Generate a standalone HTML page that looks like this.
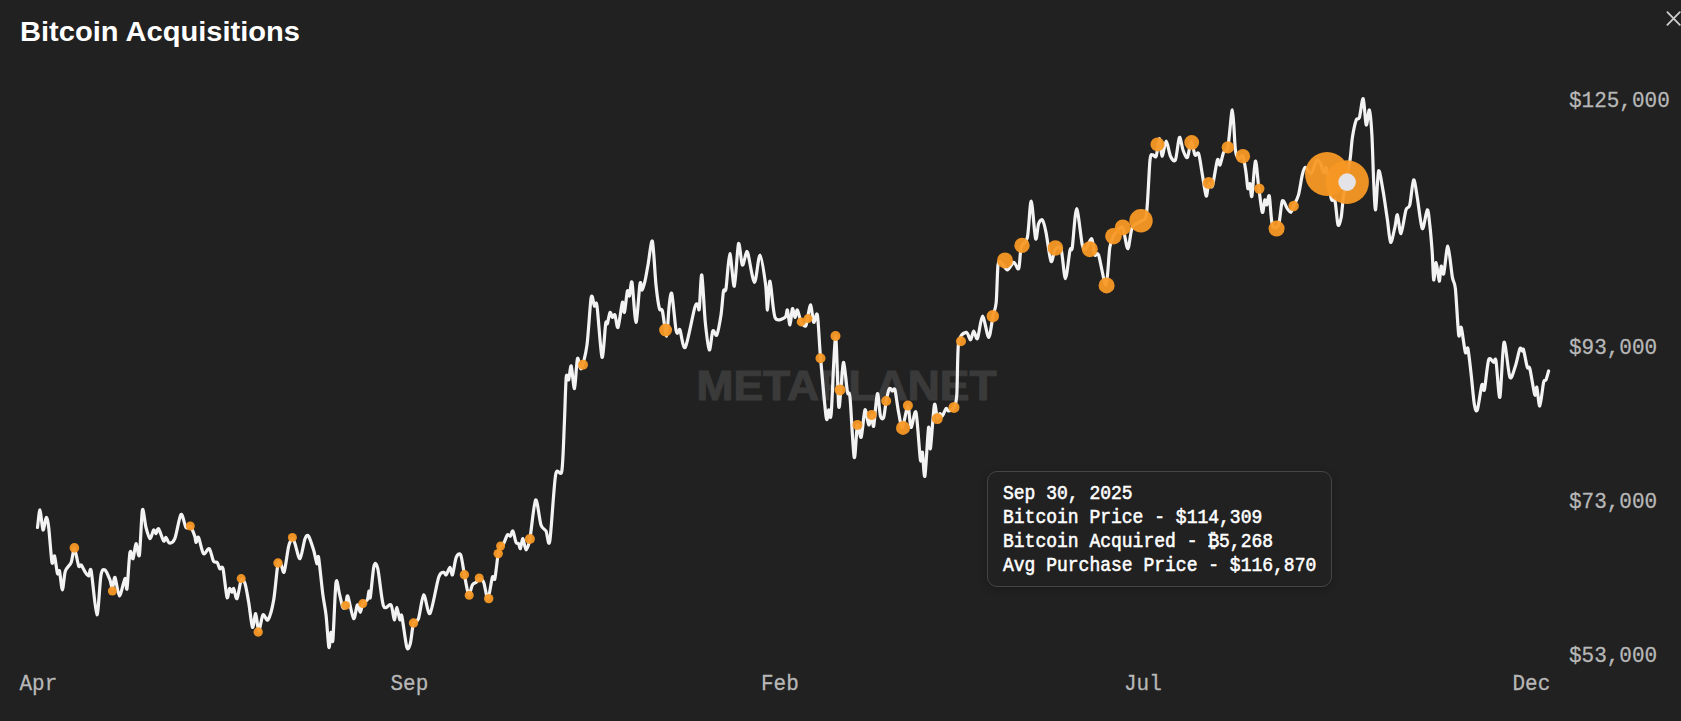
<!DOCTYPE html>
<html lang="en"><head><meta charset="utf-8"><title>Bitcoin Acquisitions</title>
<style>
html,body{margin:0;padding:0;background:#212121;}
body{width:1681px;height:721px;overflow:hidden;position:relative;font-family:"Liberation Mono",monospace;}
svg{position:absolute;left:0;top:0;display:block}
.ttl{font-family:"Liberation Sans",sans-serif;font-weight:700;font-size:28px;fill:#fff}
.ax{font-family:"Liberation Mono",monospace;font-size:21px;fill:#b8b8b8;stroke:#b8b8b8;stroke-width:0.25px}
.wm{font-family:"Liberation Sans",sans-serif;font-weight:700;font-size:42.5px;fill:#3a3a3a;stroke:#3a3a3a;stroke-width:1.2px}
.tip{position:absolute;left:987px;top:471px;width:343px;height:114px;box-sizing:content-box;border:1px solid #454545;border-radius:10px;background:#212121;box-shadow:0 2px 8px rgba(0,0,0,.2);}
.tip div{position:absolute;left:15px;white-space:pre;font-size:18px;line-height:24px;color:#fff;font-family:"Liberation Mono",monospace;letter-spacing:0;-webkit-text-stroke:0.5px #fff;transform:scaleY(1.08);transform-origin:0 75%}
</style></head><body>
<svg width="1681" height="721" viewBox="0 0 1681 721">
<rect width="1681" height="721" fill="#212121"/>
<text class="wm" x="696.5" y="399.6" textLength="300" lengthAdjust="spacingAndGlyphs">METAPLANET</text>
<path d="M37.5 527.5C37.9 525.0 39.2 509.6 40.0 510.0C40.8 510.4 42.1 528.9 43.0 530.0C43.9 531.1 45.4 517.9 46.2 517.5C47.0 517.1 47.9 521.1 48.7 527.5C49.5 533.9 51.2 558.3 52.0 562.4C52.8 566.5 53.7 554.4 54.5 556.0C55.3 557.6 56.8 571.5 57.5 573.6C58.2 575.8 58.8 568.7 59.5 571.0C60.2 573.3 61.6 589.9 62.4 589.9C63.2 589.9 64.1 574.9 65.4 571.0C66.7 567.1 69.9 565.6 71.2 562.4C72.5 559.2 73.3 548.2 74.4 548.7C75.5 549.2 77.7 563.7 78.7 566.0C79.7 568.3 80.2 564.1 81.2 565.0C82.2 565.9 84.3 570.8 85.4 572.4C86.5 574.0 87.9 576.2 88.7 576.0C89.5 575.8 90.0 565.4 91.2 571.0C92.4 576.6 95.5 614.2 96.9 614.8C98.3 615.4 99.8 581.4 101.0 575.0C102.2 568.6 103.7 569.3 105.0 570.0C106.3 570.7 108.9 577.3 110.0 580.0C111.1 582.7 111.7 589.0 112.4 588.6C113.1 588.2 114.0 576.3 115.0 577.4C116.0 578.5 118.0 595.8 119.4 596.0C120.8 596.2 123.9 579.7 125.0 578.6C126.1 577.5 126.3 592.4 127.0 588.6C127.7 584.8 129.1 556.7 130.0 552.4C130.9 548.1 132.1 559.9 133.0 558.7C133.9 557.5 135.1 544.2 136.0 543.7C136.9 543.2 138.5 559.8 139.4 555.0C140.3 550.2 141.5 513.9 142.4 510.0C143.3 506.1 144.9 523.4 146.0 527.5C147.1 531.6 148.9 538.3 150.0 538.7C151.1 539.1 152.7 530.7 153.6 530.0C154.5 529.3 155.3 533.9 156.0 533.7C156.7 533.5 157.5 527.7 158.6 528.7C159.7 529.7 162.5 539.8 163.6 541.0C164.7 542.2 165.2 537.1 166.0 537.4C166.8 537.7 168.0 542.8 169.3 543.0C170.6 543.2 173.1 542.8 174.8 538.7C176.5 534.6 179.4 516.1 181.0 514.5C182.6 512.9 184.7 525.8 186.0 527.5C187.3 529.2 189.0 525.0 190.3 526.2C191.6 527.4 194.0 533.9 194.8 536.2C195.6 538.5 195.5 542.2 196.0 542.4C196.5 542.6 197.4 535.8 198.5 537.4C199.6 539.0 202.0 552.1 203.5 553.7C205.0 555.3 207.9 547.6 209.3 548.7C210.7 549.8 212.4 559.2 213.5 561.2C214.6 563.2 216.3 561.3 217.2 562.4C218.1 563.5 219.0 567.8 219.8 568.7C220.6 569.6 222.0 564.6 223.0 568.7C224.0 572.8 226.1 594.5 227.0 597.4C227.9 600.3 228.8 589.3 229.5 588.6C230.2 587.9 231.4 592.4 232.0 592.4C232.6 592.4 233.0 587.7 233.7 588.6C234.4 589.5 235.9 599.8 237.0 598.6C238.1 597.4 240.1 582.0 241.2 579.9C242.3 577.8 243.9 580.4 245.0 583.6C246.1 586.8 247.6 596.1 248.7 602.4C249.8 608.7 251.5 625.7 252.5 627.3C253.5 628.9 254.8 613.1 255.7 613.6C256.6 614.1 257.7 630.8 258.7 631.0C259.7 631.2 261.7 616.4 263.0 614.8C264.3 613.2 266.5 621.9 268.0 619.8C269.5 617.7 272.3 607.9 273.7 599.9C275.1 591.9 276.9 568.7 278.0 563.7C279.1 558.7 280.3 563.8 281.2 565.0C282.1 566.2 283.1 574.6 284.2 571.9C285.3 569.2 287.5 551.0 288.7 546.2C289.9 541.4 291.5 539.1 292.4 538.7C293.3 538.3 293.9 540.8 295.0 543.7C296.1 546.6 298.6 559.4 300.0 558.7C301.4 558.0 303.8 541.9 305.0 538.7C306.2 535.5 307.4 534.6 308.6 536.2C309.8 537.8 312.4 546.1 313.6 550.0C314.8 553.9 316.3 562.6 317.0 563.7C317.7 564.8 317.8 552.9 318.6 557.4C319.4 561.9 321.8 586.7 322.9 594.9C324.0 603.1 325.1 607.3 326.0 614.8C326.9 622.3 328.2 644.8 328.9 647.3C329.6 649.8 330.4 633.4 331.0 632.3C331.6 631.2 332.2 647.0 332.9 639.8C333.6 632.6 335.1 589.0 336.0 582.4C336.9 575.8 338.4 590.0 339.4 593.6C340.4 597.2 341.9 605.6 342.8 607.4C343.7 609.2 344.9 607.6 345.6 606.0C346.3 604.4 346.7 594.2 347.8 596.0C348.9 597.8 352.2 617.3 353.6 618.6C355.0 619.9 356.3 605.8 357.3 604.9C358.3 604.0 359.5 612.5 360.3 612.3C361.1 612.1 361.8 605.4 362.8 603.6C363.8 601.8 366.4 601.7 367.3 599.9C368.2 598.1 368.6 591.4 369.0 591.0C369.4 590.6 369.6 601.0 370.3 597.4C371.0 593.8 372.9 570.1 374.0 566.0C375.1 561.9 376.4 563.0 377.8 568.7C379.2 574.4 381.6 600.8 383.5 606.0C385.4 611.2 389.5 602.9 391.0 604.9C392.5 606.9 393.5 619.4 394.3 619.8C395.1 620.2 396.0 607.4 396.8 607.4C397.6 607.4 399.1 618.6 399.8 619.8C400.5 621.0 400.8 612.1 401.8 616.0C402.8 619.9 405.6 643.3 406.8 647.3C408.0 651.3 409.3 647.0 410.3 643.6C411.3 640.2 412.3 627.2 413.5 623.6C414.7 620.0 417.0 622.7 418.5 618.6C420.0 614.5 422.1 595.5 423.7 594.8C425.3 594.1 427.9 616.0 430.0 613.5C432.1 611.0 436.7 583.2 438.7 577.3C440.7 571.4 442.6 572.7 443.7 572.3C444.8 571.9 445.3 575.5 446.2 574.8C447.1 574.1 449.1 567.3 450.0 567.3C450.9 567.3 451.6 576.2 452.5 574.8C453.4 573.4 455.0 560.3 456.2 557.4C457.4 554.5 459.5 552.4 460.7 554.9C461.9 557.4 463.3 569.1 464.4 574.8C465.5 580.5 467.6 593.4 468.7 594.8C469.8 596.2 471.3 586.6 472.4 584.8C473.5 583.0 475.2 583.2 476.2 582.3C477.2 581.4 478.1 578.6 479.2 578.6C480.3 578.6 482.5 579.4 483.7 582.3C484.9 585.2 486.7 599.3 487.9 598.6C489.1 597.9 491.4 580.2 492.4 577.3C493.4 574.4 494.1 582.0 494.9 578.6C495.7 575.2 497.4 558.3 498.2 553.6C499.0 548.9 499.8 547.4 500.6 546.0C501.4 544.6 502.6 545.2 503.6 543.6C504.6 542.0 506.4 536.0 507.4 534.9C508.4 533.8 509.6 536.7 510.4 536.1C511.2 535.5 512.1 530.1 512.9 531.0C513.7 531.9 515.2 540.6 516.0 542.4C516.8 544.2 518.0 542.7 518.6 543.6C519.2 544.5 519.8 549.3 520.4 548.6C521.0 547.9 522.1 538.4 522.9 538.6C523.7 538.8 525.0 549.9 526.0 549.9C527.0 549.9 528.5 545.8 529.9 538.6C531.3 531.4 534.0 501.9 535.6 499.9C537.2 497.9 539.5 520.4 541.0 524.9C542.5 529.4 544.7 528.7 546.0 531.0C547.3 533.3 548.4 549.0 549.8 541.0C551.2 533.0 553.9 485.0 555.6 475.0C557.3 465.0 560.6 478.4 561.8 471.2C563.0 464.0 563.7 438.5 564.3 425.0C564.9 411.5 565.6 383.8 566.2 377.3C566.8 370.8 568.0 381.4 568.7 379.8C569.4 378.2 570.4 364.8 571.2 366.0C572.0 367.2 573.6 389.6 574.5 388.5C575.4 387.4 576.5 361.5 577.5 358.6C578.5 355.7 579.8 370.6 581.2 368.6C582.6 366.6 585.6 355.1 587.0 344.9C588.4 334.7 590.1 303.0 591.2 297.4C592.3 291.8 593.6 304.8 594.4 306.0C595.2 307.2 595.9 298.6 597.0 306.0C598.1 313.4 600.8 354.8 602.0 357.3C603.2 359.8 604.9 328.4 605.7 323.6C606.5 318.8 606.8 325.2 607.4 323.6C608.0 322.0 609.3 313.3 610.0 312.4C610.7 311.5 611.7 317.0 612.4 317.4C613.1 317.8 614.2 313.6 615.0 315.0C615.8 316.4 616.9 329.2 618.0 327.4C619.1 325.6 621.5 304.5 622.4 302.4C623.3 300.2 623.7 314.0 624.4 312.4C625.1 310.8 626.7 293.4 627.4 291.0C628.1 288.6 628.7 297.2 629.4 296.0C630.1 294.8 631.1 278.6 632.0 282.4C632.9 286.2 634.9 322.2 636.0 322.4C637.1 322.6 639.1 288.3 640.0 283.7C640.9 279.1 641.3 290.4 642.0 290.0C642.7 289.6 644.1 284.6 645.0 281.0C645.9 277.4 646.9 270.7 648.0 265.0C649.1 259.3 651.3 238.3 652.4 241.2C653.5 244.1 655.0 275.3 656.0 285.0C657.0 294.7 658.5 304.9 659.4 308.6C660.3 312.3 661.4 307.1 662.4 311.0C663.4 314.9 665.7 336.5 666.6 336.0C667.5 335.5 668.3 313.5 669.0 307.4C669.7 301.3 670.8 290.5 671.8 293.7C672.8 296.9 675.0 324.5 676.0 330.0C677.0 335.5 678.0 332.4 678.6 332.4C679.2 332.4 679.0 327.9 680.0 330.0C681.0 332.1 683.2 350.6 685.3 347.4C687.4 344.2 693.0 313.5 694.8 307.4C696.6 301.3 697.2 304.8 697.8 305.0C698.4 305.2 698.7 312.9 699.3 308.6C699.9 304.3 700.9 273.0 701.8 275.0C702.7 277.0 704.2 311.7 705.3 322.4C706.4 333.1 708.2 348.7 709.3 349.9C710.4 351.1 711.7 333.1 712.8 331.0C713.9 328.9 715.6 337.2 716.8 334.9C718.0 332.6 720.0 321.2 721.0 314.9C722.0 308.6 722.8 294.8 723.5 291.0C724.2 287.2 725.1 294.0 726.0 288.7C726.9 283.4 728.6 254.1 729.8 253.7C731.0 253.3 733.1 287.6 734.3 286.2C735.5 284.8 737.4 246.7 738.5 243.7C739.6 240.7 741.2 263.6 742.3 265.0C743.4 266.4 745.2 255.3 746.0 253.7C746.8 252.1 746.8 249.6 748.0 253.7C749.2 257.8 752.8 282.2 754.5 282.4C756.2 282.6 758.4 254.8 760.0 255.0C761.6 255.2 764.4 275.8 765.5 283.7C766.6 291.6 766.9 310.4 767.5 310.0C768.1 309.6 768.9 280.1 770.0 281.2C771.1 282.3 772.9 312.2 775.0 317.4C777.1 322.6 783.2 318.5 785.0 317.4C786.8 316.3 786.7 308.9 787.4 310.0C788.1 311.1 789.3 325.2 790.0 325.0C790.7 324.8 791.7 309.8 792.4 308.7C793.1 307.6 794.3 317.2 795.0 317.4C795.7 317.6 796.5 309.3 797.4 310.0C798.3 310.7 800.0 320.1 801.2 322.4C802.4 324.7 804.8 326.5 805.7 326.0C806.6 325.5 806.7 321.6 807.4 318.6C808.1 315.6 809.8 304.5 810.7 305.0C811.6 305.5 812.7 321.0 813.7 322.4C814.7 323.8 816.4 310.0 817.4 315.0C818.4 320.0 819.2 342.7 820.5 357.4C821.8 372.1 825.0 409.9 826.2 417.4C827.4 424.9 828.0 410.4 828.7 409.9C829.4 409.4 830.2 424.2 831.2 413.6C832.2 403.0 834.4 337.3 835.5 336.2C836.6 335.1 837.9 399.0 838.7 406.0C839.5 413.0 840.5 391.1 841.2 384.9C841.9 378.7 842.8 361.3 843.7 362.4C844.6 363.5 846.6 387.4 847.5 392.4C848.4 397.4 849.0 388.1 850.0 397.4C851.0 406.7 853.1 453.4 854.2 457.3C855.3 461.2 856.4 427.8 857.4 424.9C858.4 422.0 860.1 439.4 861.2 437.3C862.3 435.2 863.9 411.7 865.0 409.9C866.1 408.1 867.7 424.2 868.7 424.9C869.7 425.6 871.0 414.7 871.7 414.9C872.4 415.1 872.9 429.1 873.7 426.0C874.5 422.9 876.4 395.0 877.4 393.6C878.4 392.2 879.5 412.6 880.4 416.0C881.3 419.4 882.9 419.5 883.7 417.4C884.5 415.2 885.4 405.1 886.2 401.0C887.0 396.9 888.5 390.0 889.4 388.6C890.3 387.2 891.6 390.8 892.4 391.0C893.2 391.2 894.1 386.9 895.0 390.0C895.9 393.1 897.5 407.0 898.6 412.4C899.7 417.8 901.1 428.3 902.4 427.4C903.7 426.5 906.7 406.0 907.9 406.0C909.1 406.0 909.8 426.5 911.0 427.4C912.2 428.3 914.7 407.8 916.0 412.4C917.3 417.0 919.5 454.1 920.4 459.8C921.3 465.5 921.8 450.0 922.4 452.3C923.0 454.6 924.0 479.6 924.9 476.0C925.8 472.4 927.8 431.3 928.6 427.4C929.4 423.5 929.6 451.8 930.4 448.6C931.2 445.4 933.4 409.2 934.4 404.9C935.4 400.6 936.5 417.4 937.3 418.6C938.1 419.8 939.1 414.0 939.8 413.6C940.5 413.2 941.4 416.7 942.3 416.0C943.2 415.3 945.1 409.3 946.0 408.6C946.9 407.9 947.5 411.2 948.6 411.0C949.7 410.8 952.8 409.7 954.0 407.4C955.2 405.1 956.1 404.2 956.8 394.9C957.5 385.6 957.3 351.5 958.6 342.5C959.9 333.5 964.5 332.7 966.2 332.3C967.9 331.9 969.4 340.0 970.5 339.8C971.6 339.6 972.7 331.2 973.7 331.0C974.7 330.8 976.2 340.6 977.5 338.5C978.8 336.4 980.9 316.2 982.5 316.0C984.1 315.8 987.2 337.3 988.7 337.3C990.2 337.3 991.9 321.0 993.0 316.0C994.1 311.0 995.5 309.6 996.2 302.3C996.9 295.0 997.3 270.7 998.0 265.0C998.7 259.3 999.9 261.7 1001.2 262.4C1002.5 263.1 1005.6 270.0 1007.4 270.0C1009.2 270.0 1012.1 262.6 1013.7 262.4C1015.3 262.2 1017.6 270.8 1018.7 268.6C1019.8 266.5 1020.0 251.9 1021.2 247.4C1022.4 242.9 1026.0 244.0 1027.4 237.4C1028.8 230.8 1030.0 201.0 1031.2 201.2C1032.4 201.4 1034.5 235.5 1035.6 238.7C1036.7 241.9 1037.6 226.4 1038.6 223.7C1039.6 221.0 1041.3 218.8 1042.4 220.0C1043.5 221.2 1044.8 226.5 1046.0 232.4C1047.2 238.3 1049.7 258.7 1051.0 261.2C1052.3 263.7 1053.6 251.8 1055.0 250.0C1056.4 248.2 1059.5 244.6 1061.0 248.7C1062.5 252.8 1064.1 278.4 1065.4 278.6C1066.7 278.8 1069.0 254.5 1070.0 250.0C1071.0 245.5 1071.4 253.3 1072.3 247.4C1073.2 241.5 1075.2 209.0 1076.6 208.7C1078.0 208.4 1081.0 239.3 1082.3 245.0C1083.6 250.7 1084.6 249.6 1086.0 248.7C1087.4 247.8 1090.5 237.8 1091.8 238.7C1093.1 239.6 1093.8 252.7 1094.8 255.0C1095.8 257.3 1097.0 250.7 1098.6 255.0C1100.2 259.3 1104.4 286.0 1106.0 284.9C1107.6 283.8 1108.7 254.4 1109.8 247.4C1110.9 240.4 1111.7 239.1 1113.5 236.2C1115.3 233.3 1120.3 225.6 1122.3 227.4C1124.3 229.2 1126.4 248.7 1127.8 248.7C1129.2 248.7 1130.4 231.3 1132.3 227.4C1134.2 223.5 1139.0 223.2 1141.0 221.2C1143.0 219.2 1145.2 222.3 1146.5 213.5C1147.8 204.7 1149.1 168.4 1150.0 160.0C1150.9 151.6 1152.1 155.5 1153.0 155.0C1153.9 154.5 1155.3 158.5 1156.2 156.2C1157.1 153.9 1158.7 138.7 1159.5 138.7C1160.3 138.7 1161.0 155.8 1162.0 156.2C1163.0 156.6 1165.0 141.2 1166.2 141.2C1167.4 141.2 1169.2 153.5 1170.5 156.2C1171.8 158.9 1174.1 162.7 1175.4 160.0C1176.7 157.3 1178.3 138.8 1179.4 137.4C1180.5 136.0 1181.9 147.1 1183.0 150.0C1184.1 152.9 1186.2 158.7 1187.4 157.4C1188.6 156.1 1190.1 141.5 1191.2 141.2C1192.3 140.9 1193.9 153.2 1195.0 155.0C1196.1 156.8 1197.6 150.8 1198.7 153.7C1199.8 156.6 1201.3 168.9 1202.4 175.0C1203.5 181.1 1205.3 194.9 1206.2 196.1C1207.1 197.3 1207.8 185.0 1208.7 183.6C1209.6 182.2 1211.2 189.4 1212.4 186.0C1213.6 182.6 1216.3 163.0 1217.4 160.0C1218.5 157.0 1219.1 166.1 1220.0 165.0C1220.9 163.9 1222.5 154.9 1223.6 152.4C1224.7 149.9 1226.6 153.5 1227.9 147.4C1229.2 141.3 1231.3 109.6 1232.4 110.0C1233.5 110.4 1234.5 143.0 1235.4 150.0C1236.3 157.0 1237.5 157.8 1238.6 158.7C1239.7 159.6 1241.8 154.2 1242.9 156.2C1244.0 158.2 1245.3 167.8 1246.0 172.4C1246.7 177.0 1247.3 187.0 1247.9 188.6C1248.5 190.2 1249.3 182.5 1249.9 183.6C1250.5 184.7 1251.1 199.3 1251.9 196.1C1252.7 192.9 1254.4 162.6 1255.4 161.2C1256.4 159.8 1257.6 178.7 1258.6 186.0C1259.6 193.3 1261.4 210.3 1262.3 212.3C1263.2 214.3 1264.2 201.0 1264.8 199.9C1265.4 198.8 1266.2 205.5 1266.8 204.9C1267.4 204.3 1268.5 193.1 1269.3 196.0C1270.1 198.9 1271.0 220.7 1272.3 224.8C1273.6 228.9 1277.2 228.2 1278.6 224.8C1280.0 221.4 1281.1 203.3 1282.3 201.0C1283.5 198.7 1286.1 207.0 1287.3 208.6C1288.5 210.2 1290.1 212.7 1291.0 212.3C1291.9 211.9 1292.5 208.5 1293.6 206.0C1294.7 203.5 1297.3 199.4 1298.5 194.9C1299.7 190.4 1301.3 178.8 1302.3 174.9C1303.3 171.0 1304.0 167.6 1305.3 167.4C1306.6 167.2 1309.6 174.5 1311.2 173.6C1312.8 172.7 1314.9 162.8 1316.2 161.2C1317.5 159.6 1318.9 160.8 1320.0 162.4C1321.1 164.0 1322.8 171.5 1323.7 172.4C1324.6 173.3 1325.4 164.8 1326.5 168.6C1327.6 172.4 1330.0 194.0 1331.2 198.6C1332.4 203.2 1334.0 197.2 1335.0 201.0C1336.0 204.8 1337.1 222.5 1338.0 224.8C1338.9 227.1 1340.4 221.6 1341.2 217.3C1342.0 213.0 1342.4 203.1 1343.7 194.9C1345.0 186.7 1348.8 168.1 1350.0 159.9C1351.2 151.7 1351.5 143.1 1352.4 137.4C1353.3 131.7 1355.2 122.9 1356.2 120.0C1357.2 117.1 1358.4 120.6 1359.4 117.5C1360.4 114.4 1362.2 97.6 1363.2 98.7C1364.2 99.8 1365.3 123.4 1366.2 125.0C1367.1 126.6 1368.6 108.6 1369.4 110.0C1370.2 111.4 1371.3 124.9 1371.9 134.9C1372.5 144.9 1373.1 169.2 1373.6 179.9C1374.1 190.6 1374.9 211.1 1375.6 209.8C1376.3 208.5 1377.6 174.0 1378.6 171.1C1379.6 168.2 1381.6 182.9 1382.9 189.9C1384.2 196.9 1386.3 212.3 1387.4 219.8C1388.5 227.3 1389.5 241.2 1390.6 242.3C1391.7 243.4 1393.9 231.2 1394.9 227.3C1395.9 223.4 1396.5 213.9 1397.4 214.8C1398.3 215.7 1399.8 234.3 1401.0 233.6C1402.2 232.9 1404.7 213.9 1406.0 209.8C1407.3 205.7 1408.7 209.2 1409.8 204.9C1410.9 200.6 1412.5 181.0 1413.6 179.9C1414.7 178.8 1416.1 190.4 1417.3 197.4C1418.5 204.4 1420.9 226.8 1422.3 228.6C1423.7 230.4 1426.2 210.3 1427.3 209.8C1428.4 209.3 1429.1 218.8 1429.8 224.8C1430.5 230.8 1431.6 244.1 1432.2 252.0C1432.8 259.9 1433.1 278.4 1433.7 279.9C1434.3 281.4 1435.4 262.3 1436.2 262.5C1437.0 262.7 1438.5 280.7 1439.2 281.2C1439.9 281.7 1440.6 267.3 1441.2 266.2C1441.8 265.1 1442.7 276.6 1443.7 273.7C1444.7 270.8 1446.7 245.7 1447.9 246.2C1449.1 246.7 1451.3 271.3 1452.4 277.4C1453.5 283.5 1454.5 280.5 1455.4 288.7C1456.3 296.9 1457.9 329.4 1458.7 334.9C1459.5 340.4 1460.2 324.9 1461.2 327.4C1462.2 329.9 1464.4 349.4 1465.4 352.4C1466.4 355.4 1467.1 345.4 1467.9 348.6C1468.7 351.8 1470.3 366.7 1471.2 374.8C1472.1 382.9 1473.5 399.8 1474.4 404.8C1475.3 409.8 1476.3 412.7 1477.4 409.8C1478.5 406.9 1480.9 387.7 1481.9 384.8C1482.9 381.9 1483.4 393.4 1484.4 389.8C1485.4 386.2 1487.3 363.8 1488.6 359.9C1489.9 356.0 1492.5 362.1 1493.6 362.3C1494.7 362.5 1495.1 356.0 1496.0 361.0C1496.9 366.0 1498.8 400.0 1499.9 397.3C1501.0 394.6 1502.6 345.3 1504.0 342.4C1505.4 339.5 1508.3 373.9 1509.9 377.3C1511.5 380.7 1514.0 370.1 1515.4 366.0C1516.8 361.9 1518.9 350.8 1519.9 348.6C1520.9 346.5 1521.8 350.8 1522.3 351.0C1522.8 351.2 1522.9 347.6 1523.6 349.9C1524.3 352.2 1526.4 364.6 1527.3 367.3C1528.2 370.0 1528.7 364.6 1529.8 368.5C1530.9 372.4 1533.8 392.1 1534.8 394.8C1535.8 397.5 1536.1 385.7 1536.8 387.3C1537.5 388.9 1538.8 406.7 1539.8 406.0C1540.8 405.3 1542.7 386.1 1543.6 382.3C1544.5 378.5 1545.3 381.4 1546.0 379.8C1546.7 378.2 1548.2 372.3 1548.6 371.0" fill="none" stroke="#f3f3f3" stroke-width="3.2" stroke-linejoin="round" stroke-linecap="round"/>
<g fill="#f89824" fill-opacity="0.95">
<circle cx="74.4" cy="547.9" r="4.8"/>
<circle cx="112.4" cy="591.0" r="4.5"/>
<circle cx="190.3" cy="526.0" r="4.5"/>
<circle cx="241.2" cy="578.6" r="4.5"/>
<circle cx="258.2" cy="632.0" r="4.7"/>
<circle cx="278.0" cy="563.0" r="4.7"/>
<circle cx="292.4" cy="537.4" r="4.5"/>
<circle cx="345.6" cy="605.4" r="4.5"/>
<circle cx="362.8" cy="603.6" r="4.5"/>
<circle cx="413.5" cy="623.0" r="4.7"/>
<circle cx="464.4" cy="574.8" r="4.7"/>
<circle cx="469.2" cy="595.3" r="4.5"/>
<circle cx="479.2" cy="578.0" r="4.5"/>
<circle cx="488.7" cy="598.6" r="4.7"/>
<circle cx="498.2" cy="553.6" r="4.7"/>
<circle cx="500.6" cy="546.0" r="4.5"/>
<circle cx="529.9" cy="539.0" r="5.0"/>
<circle cx="583.0" cy="364.8" r="5.0"/>
<circle cx="665.6" cy="330.0" r="6.5"/>
<circle cx="801.2" cy="321.9" r="4.5"/>
<circle cx="808.0" cy="318.6" r="4.5"/>
<circle cx="820.5" cy="358.2" r="5.0"/>
<circle cx="835.5" cy="336.0" r="5.0"/>
<circle cx="840.0" cy="389.9" r="5.5"/>
<circle cx="857.4" cy="424.9" r="5.0"/>
<circle cx="871.7" cy="414.9" r="5.0"/>
<circle cx="886.2" cy="401.0" r="5.0"/>
<circle cx="903.0" cy="427.9" r="7.0"/>
<circle cx="907.9" cy="405.6" r="5.0"/>
<circle cx="937.3" cy="418.6" r="5.5"/>
<circle cx="954.0" cy="407.4" r="5.5"/>
<circle cx="961.0" cy="341.2" r="5.0"/>
<circle cx="992.8" cy="316.2" r="6.2"/>
<circle cx="1005.0" cy="260.4" r="8.0"/>
<circle cx="1022.0" cy="245.4" r="7.7"/>
<circle cx="1055.4" cy="248.0" r="7.8"/>
<circle cx="1089.8" cy="249.2" r="8.0"/>
<circle cx="1106.6" cy="285.4" r="8.0"/>
<circle cx="1113.5" cy="236.2" r="8.3"/>
<circle cx="1122.8" cy="227.4" r="8.0"/>
<circle cx="1141.0" cy="220.8" r="11.7"/>
<circle cx="1157.5" cy="144.4" r="7.0"/>
<circle cx="1191.7" cy="142.4" r="7.4"/>
<circle cx="1208.7" cy="182.9" r="6.0"/>
<circle cx="1227.9" cy="147.4" r="6.2"/>
<circle cx="1242.9" cy="156.2" r="7.2"/>
<circle cx="1259.3" cy="188.6" r="5.2"/>
<circle cx="1276.6" cy="228.6" r="8.0"/>
<circle cx="1293.6" cy="206.0" r="5.2"/>
<circle cx="1327.0" cy="174.0" r="22.0"/>
</g>
<circle cx="1347.1" cy="182.1" r="21.8" fill="#f89824" fill-opacity="0.95"/>
<circle cx="1347.1" cy="182.1" r="8.8" fill="#e4e4e8"/>
<text class="ttl" x="20" y="41.2" textLength="280" lengthAdjust="spacingAndGlyphs">Bitcoin Acquisitions</text>
<g class="ax">
<text transform="translate(1569,106.5) scale(1,1.03)">$125,000</text>
<text transform="translate(1569,354) scale(1,1.03)">$93,000</text>
<text transform="translate(1569,507.5) scale(1,1.03)">$73,000</text>
<text transform="translate(1569,662) scale(1,1.03)">$53,000</text>
<text transform="translate(19.5,689.8) scale(1,1.03)">Apr</text>
<text transform="translate(390.5,689.8) scale(1,1.03)">Sep</text>
<text transform="translate(761,689.8) scale(1,1.03)">Feb</text>
<text transform="translate(1124,689.8) scale(1,1.03)">Jul</text>
<text transform="translate(1512.5,689.8) scale(1,1.03)">Dec</text>
</g>
<path d="M1667.4 12.1L1679.8 24.9M1679.8 12.1L1667.4 24.9" stroke="#cccccc" stroke-width="1.8" fill="none" stroke-linecap="round"/>
</svg>
<div class="tip">
<div style="top:10px">Sep 30, 2025</div>
<div style="top:33.5px">Bitcoin Price - $114,309</div>
<div style="top:57.5px">Bitcoin Acquired - ₿5,268</div>
<div style="top:81.5px">Avg Purchase Price - $116,870</div>
</div>
</body></html>
